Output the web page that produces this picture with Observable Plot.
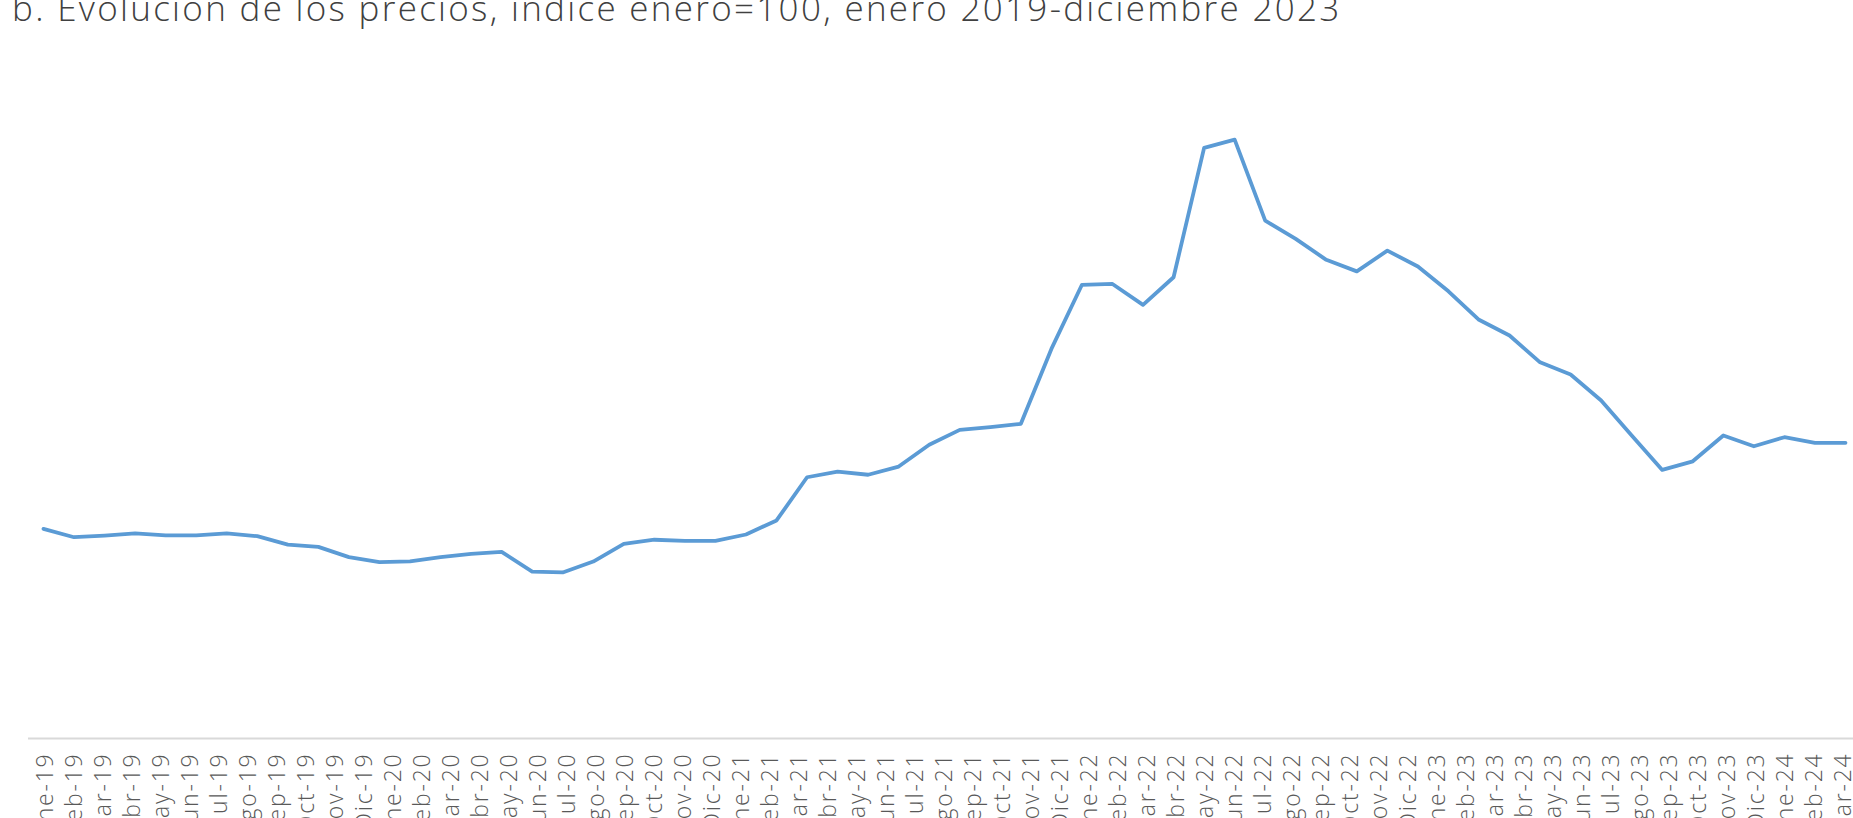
<!DOCTYPE html>
<html>
<head>
<meta charset="utf-8">
<script src="https://cdn.jsdelivr.net/npm/d3@7"></script>
<script src="https://cdn.jsdelivr.net/npm/@observablehq/plot@0.6"></script>
<style>
html, body { margin: 0; padding: 0; background: #fff; overflow: hidden; width: 1853px; height: 818px; }
#wrap { position: relative; width: 1853px; height: 818px; overflow: hidden; }
#title { position: absolute; left: 12px; top: -10px; font-family: "Open Sans", sans-serif; font-weight: 300; font-size: 35px; line-height: 35px; color: #404040; white-space: nowrap; letter-spacing: 2.3px; }
#wrap svg { position: absolute; left: 0; top: 0; }
</style>
</head>
<body>
<div id="wrap">
  <div id="title">b. Evolución de los precios, índice enero=100, enero 2019-diciembre 2023</div>
</div>
<script>
// Series: monthly price index (Ene-19 = 100), Ene-19 .. Dic-23
const months = [
  "Ene-19","Feb-19","Mar-19","Abr-19","May-19","Jun-19","Jul-19","Ago-19","Sep-19","Oct-19","Nov-19","Dic-19",
  "Ene-20","Feb-20","Mar-20","Abr-20","May-20","Jun-20","Jul-20","Ago-20","Sep-20","Oct-20","Nov-20","Dic-20",
  "Ene-21","Feb-21","Mar-21","Abr-21","May-21","Jun-21","Jul-21","Ago-21","Sep-21","Oct-21","Nov-21","Dic-21",
  "Ene-22","Feb-22","Mar-22","Abr-22","May-22","Jun-22","Jul-22","Ago-22","Sep-22","Oct-22","Nov-22","Dic-22",
  "Ene-23","Feb-23","Mar-23","Abr-23","May-23","Jun-23","Jul-23","Ago-23","Sep-23","Oct-23","Nov-23","Dic-23"
];
const values = [
  100.0, 96.0, 96.8, 97.8, 96.9, 96.9, 97.8, 96.5, 92.5, 91.4, 86.5, 84.1,
  84.5, 86.5, 88.1, 89.0, 79.6, 79.2, 84.4, 92.8, 94.8, 94.3, 94.3, 97.3,
  104.0, 124.6, 127.3, 125.8, 129.7, 140.1, 147.2, 148.5, 150.1, 185.8, 216.4, 216.8,
  206.8, 220.0, 281.7, 285.6, 247.0, 238.3, 228.3, 222.8, 232.7, 225.1, 213.3, 199.7,
  192.2, 179.4, 173.6, 161.2, 144.5, 128.1, 132.2, 144.5, 139.4, 143.7, 141.0, 141.0
];
// Category axis labels as shown under the chart (Ene-19 .. Mar-24)
const tickLabels = [
  "Ene-19","Feb-19","Mar-19","Abr-19","May-19","Jun-19","Jul-19","Ago-19","Sep-19","Oct-19","Nov-19","Dic-19",
  "Ene-20","Feb-20","Mar-20","Abr-20","May-20","Jun-20","Jul-20","Ago-20","Sep-20","Oct-20","Nov-20","Dic-20",
  "Ene-21","Feb-21","Mar-21","Abr-21","May-21","Jun-21","Jul-21","Ago-21","Sep-21","Oct-21","Nov-21","Dic-21",
  "Ene-22","Feb-22","Mar-22","Abr-22","May-22","Jun-22","Jul-22","Ago-22","Sep-22","Oct-22","Nov-22","Dic-22",
  "Ene-23","Feb-23","Mar-23","Abr-23","May-23","Jun-23","Jul-23","Ago-23","Sep-23","Oct-23","Nov-23","Dic-23",
  "Ene-24","Feb-24","Mar-24"
];

const data = months.map((m, i) => ({month: m, value: values[i]}));

const common = {
  width: 1853,
  height: 880,
  marginLeft: 43,
  marginRight: 8,
  marginTop: 109,
  marginBottom: 142
};

const axisPlot = Plot.plot({
  ...common,
  style: {background: "none", fontFamily: "Open Sans, sans-serif", overflow: "visible", letterSpacing: "1.8px"},
  x: {type: "point", domain: tickLabels, padding: 0},
  y: {domain: [0, 300], axis: null},
  marks: [
    Plot.ruleY([0], {stroke: "#d9d9d9", strokeWidth: 2, insetLeft: -15, insetRight: -10}),
    Plot.axisX({tickRotate: -90, tickSize: 0, tickPadding: 14, fontSize: 23, fontWeight: 300, color: "#595959", label: null})
  ]
});

const linePlot = Plot.plot({
  ...common,
  style: {background: "none", fontFamily: "Open Sans, sans-serif", overflow: "visible"},
  x: {type: "point", domain: months, padding: 0, axis: null},
  y: {domain: [0, 300], axis: null},
  marks: [
    Plot.lineY(data, {x: "month", y: "value", stroke: "#5b9bd5", strokeWidth: 3.8})
  ]
});

const wrap = document.getElementById("wrap");
wrap.appendChild(axisPlot);
wrap.appendChild(linePlot);
</script>
</body>
</html>
